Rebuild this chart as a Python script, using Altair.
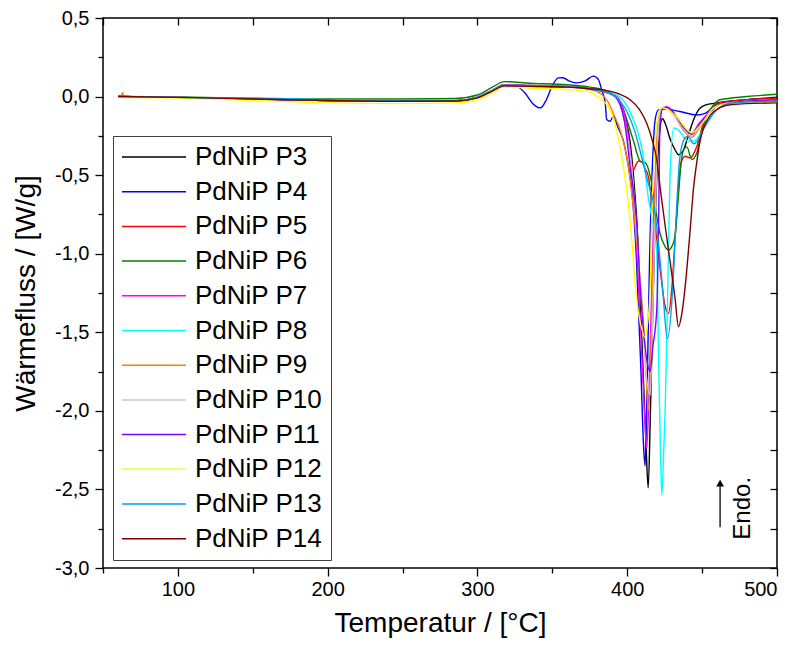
import altair as alt
import pandas as pd

FONT = "Liberation Sans"

NAMES = ["PdNiP P3", "PdNiP P4", "PdNiP P5", "PdNiP P6", "PdNiP P7", "PdNiP P8",
         "PdNiP P9", "PdNiP P10", "PdNiP P11", "PdNiP P12", "PdNiP P13", "PdNiP P14"]
COLORS = ["#000000", "#0000FF", "#FF0000", "#008000", "#FF00FF", "#00FFFF",
          "#FF8000", "#C8C8C8", "#8000FF", "#FFFF00", "#00A0F0", "#800000"]

BASE_T = [60, 100, 150, 200, 250, 285, 300, 310, 318, 335, 360, 375]

P3_T = BASE_T + [385, 392, 398, 403, 407, 410, 412.5, 414, 415.5, 418, 421, 423.5, 425.3, 429, 432, 434.2, 437.6, 441, 444.2, 448, 452, 460, 480, 500]
P3_V = [0.0, -0.005, -0.015, -0.025, -0.03, -0.028, -0.005, 0.04, 0.075, 0.07, 0.065, 0.05] + \
       [0.03, 0.0, -0.1, -0.38, -0.9, -1.6, -2.2, -2.49, -2.0, -1.0, -0.3, -0.14, -0.17, -0.28, -0.34, -0.37, -0.34, -0.24, -0.15, -0.08, -0.054, -0.04, -0.02, -0.005]

P4_T = [60, 100, 150, 200, 250, 285, 300, 310, 318, 326, 332, 337, 342, 346, 350, 354, 357, 361, 366, 372, 377.4, 380.8, 383, 385.3, 386.3, 388.6, 390.7, 394, 397.4, 400, 403, 406, 409, 410.8, 411.9, 413, 415, 417, 418.6, 420.8, 425, 435, 446.4, 452, 456, 460, 470, 500]
P4_V = [0.0, -0.005, -0.015, -0.025, -0.03, -0.028, -0.005, 0.04, 0.07, 0.065, 0.02, -0.045, -0.072, -0.02, 0.07, 0.119, 0.12, 0.1, 0.087, 0.1, 0.13, 0.108, 0.04, -0.04, -0.146, -0.157, -0.125, -0.2, -0.28, -0.4, -0.59, -1.0, -1.7, -2.2, -2.35, -2.0, -1.0, -0.4, -0.15, -0.085, -0.08, -0.095, -0.117, -0.107, -0.08, -0.05, -0.03, -0.02]

P5_T = BASE_T + [385, 392, 397, 401, 404.1, 406, 407.5, 410, 412, 414.1, 416.3, 419, 422, 425, 427.5, 429.7, 432, 434.2, 436, 438.7, 442, 444, 446.4, 450.8, 455.3, 462, 480, 500]
P5_V = [0.0, -0.005, -0.015, -0.025, -0.03, -0.028, -0.005, 0.04, 0.072, 0.068, 0.063, 0.05] + \
       [0.03, 0.0, -0.1, -0.3, -0.467, -0.43, -0.41, -0.42, -0.46, -0.51, -0.66, -0.85, -1.1, -1.32, -1.38, -1.23, -0.9, -0.59, -0.42, -0.38, -0.39, -0.37, -0.32, -0.17, -0.085, -0.04, -0.02, -0.01]

P6_T = BASE_T + [385, 392, 398, 404.1, 408.6, 412, 416.3, 419, 421.9, 425, 427.5, 430, 432, 434, 436, 437.6, 439.8, 443.1, 446.4, 449, 452, 457.6, 462, 480, 500]
P6_V = [0.0, -0.003, -0.01, -0.015, -0.015, -0.012, 0.01, 0.06, 0.095, 0.085, 0.075, 0.06] + \
       [0.04, 0.0, -0.1, -0.28, -0.41, -0.42, -0.55, -0.72, -0.87, -0.95, -0.976, -0.95, -0.88, -0.65, -0.42, -0.34, -0.32, -0.40, -0.36, -0.25, -0.15, -0.054, -0.02, 0.0, 0.015]

P7_T = BASE_T + [385, 393, 399, 403, 407, 410, 412, 413, 414.5, 417, 419.5, 421.5, 423, 426.4, 432, 438, 443.1, 448, 455.3, 462, 480, 500]
P7_V = [0.0, -0.005, -0.015, -0.025, -0.03, -0.028, -0.005, 0.04, 0.075, 0.07, 0.063, 0.048] + \
       [0.03, 0.0, -0.15, -0.45, -1.1, -1.7, -2.1, -2.24, -1.9, -1.0, -0.35, -0.12, -0.085, -0.064, -0.12, -0.2, -0.23, -0.17, -0.096, -0.05, -0.03, -0.02]

P8_T = BASE_T + [385, 395, 402, 408.6, 411, 414, 417, 419.7, 421, 422.3, 423.1, 424.2, 425.3, 426.4, 427.5, 428.6, 431, 434, 438.7, 442, 445.3, 448, 452, 459.7, 470, 500]
P8_V = [0.0, -0.005, -0.012, -0.02, -0.025, -0.025, -0.005, 0.04, 0.072, 0.068, 0.062, 0.05] + \
       [0.035, 0.0, -0.1, -0.28, -0.4, -0.64, -0.8, -1.0, -1.7, -2.3, -2.535, -2.3, -2.0, -1.55, -1.0, -0.5, -0.2, -0.21, -0.27, -0.285, -0.28, -0.25, -0.19, -0.085, -0.04, -0.02]

P9_T = [60, 62, 63, 64, 100, 150, 200, 250, 285, 300, 310, 318, 335, 360, 375, 382, 387, 390.7, 395.2, 400, 404, 408, 410.8, 412.5, 414.1, 415.3, 416.3, 418, 420, 422, 425, 432, 438, 443, 448, 455, 462, 480, 500]
P9_V = [0.0, 0.0, 0.025, 0.0, -0.005, -0.015, -0.025, -0.03, -0.028, -0.005, 0.04, 0.072, 0.068, 0.062, 0.045, 0.02, -0.03, -0.107, -0.21, -0.4, -0.7, -1.1, -1.44, -1.75, -1.99, -1.8, -1.44, -0.8, -0.25, -0.08, -0.07, -0.13, -0.22, -0.26, -0.2, -0.1, -0.05, -0.03, -0.02]

P10_T = BASE_T + [385, 392, 398, 403, 407, 410, 413, 415.3, 416.5, 418, 420, 422, 425, 432, 438, 443, 448, 455, 462, 480, 500]
P10_V = [0.0, -0.005, -0.015, -0.025, -0.03, -0.028, -0.005, 0.04, 0.072, 0.068, 0.062, 0.048] + \
        [0.03, 0.0, -0.15, -0.45, -0.95, -1.4, -1.8, -1.9, -1.6, -1.0, -0.35, -0.1, -0.07, -0.13, -0.21, -0.25, -0.19, -0.1, -0.05, -0.03, -0.02]

P11_T = BASE_T + [385, 392, 398, 402, 406.3, 408.6, 411, 413.5, 415.3, 417, 419.7, 420.8, 421.9, 424, 427, 433, 438, 443, 448, 455, 462, 480, 500]
P11_V = [0.0, -0.005, -0.015, -0.025, -0.03, -0.028, -0.005, 0.04, 0.072, 0.068, 0.062, 0.048] + \
        [0.03, 0.0, -0.15, -0.45, -0.8, -1.2, -1.5, -1.7, -1.75, -1.6, -1.36, -0.91, -0.17, -0.07, -0.07, -0.13, -0.2, -0.24, -0.18, -0.1, -0.05, -0.03, -0.02]

P12_T = BASE_T + [380, 388.6, 392, 396.3, 399.6, 402, 406.3, 409, 411.9, 413.5, 415.3, 416.3, 418, 419.7, 423, 433, 443, 450, 458, 470, 500]
P12_V = [-0.005, -0.01, -0.025, -0.04, -0.045, -0.04, -0.02, 0.025, 0.06, 0.055, 0.045, 0.03] + \
        [0.0, -0.085, -0.18, -0.38, -0.59, -0.8, -1.29, -1.45, -1.53, -1.45, -1.23, -0.8, -0.4, -0.17, -0.07, -0.13, -0.23, -0.17, -0.07, -0.04, -0.035]

P13_T = BASE_T + [385, 392, 400, 405, 410, 414, 418, 421, 423.7, 426.8, 430.3, 432.5, 435, 437.6, 439.8, 442, 444.2, 447, 450, 453, 459.7, 470, 500]
P13_V = [0.0, -0.005, -0.012, -0.02, -0.025, -0.025, -0.005, 0.04, 0.07, 0.066, 0.06, 0.048] + \
        [0.03, 0.0, -0.1, -0.22, -0.4, -0.55, -0.7, -0.95, -1.23, -1.54, -1.23, -0.8, -0.4, -0.28, -0.255, -0.27, -0.30, -0.28, -0.22, -0.17, -0.085, -0.04, -0.03]

P14_T = BASE_T + [385, 395, 401.9, 408, 413, 416.5, 419.7, 422.5, 427, 432, 434.2, 436.5, 439.8, 442, 444.2, 446.4, 448.7, 451, 455.3, 462, 470, 500]
P14_V = [0.0, -0.005, -0.015, -0.025, -0.03, -0.028, -0.008, 0.035, 0.068, 0.065, 0.06, 0.05] + \
        [0.04, 0.015, -0.02, -0.08, -0.17, -0.27, -0.4, -0.62, -0.94, -1.29, -1.465, -1.38, -1.1, -0.85, -0.59, -0.42, -0.28, -0.2, -0.12, -0.07, -0.05, -0.04]

SERIES_T = [P3_T, P4_T, P5_T, P6_T, P7_T, P8_T, P9_T, P10_T, P11_T, P12_T, P13_T, P14_T]
SERIES_V = [P3_V, P4_V, P5_V, P6_V, P7_V, P8_V, P9_V, P10_V, P11_V, P12_V, P13_V, P14_V]

X_MAJOR = [100, 200, 300, 400, 500]
X_MINOR = [50, 150, 250, 350, 450]
X_ALL = [50, 100, 150, 200, 250, 300, 350, 400, 450, 500]
Y_MAJOR = [-3.0, -2.5, -2.0, -1.5, -1.0, -0.5, 0.0, 0.5]
Y_MINOR = [-2.75, -2.25, -1.75, -1.25, -0.75, -0.25, 0.25]
Y_ALL = [-3.0, -2.75, -2.5, -2.25, -2.0, -1.75, -1.5, -1.25, -1.0, -0.75, -0.5, -0.25, 0.0, 0.25, 0.5]

# Endo arrow annotation (data coordinates)
ARROW_T = [462]
ARROW_Y0 = [-2.74]
ARROW_Y1 = [-2.48]
ARROW_HEAD = [-2.46]
ENDO_T = [477]
ENDO_Y = [-2.62]

rows = []
for name, ts, vs in zip(NAMES, SERIES_T, SERIES_V):
    for t, v in zip(ts, vs):
        rows.append({"series": name, "T": t, "V": v})
df = pd.DataFrame(rows)

arrow_df = pd.DataFrame({"T": ARROW_T, "y0": ARROW_Y0, "y1": ARROW_Y1, "head": ARROW_HEAD})
text_df = pd.DataFrame({"T": ENDO_T, "y": ENDO_Y, "label": ["Endo."]})

xs = alt.Scale(domain=[50, 500], nice=False, zero=False)
ys = alt.Scale(domain=[-3.0, 0.5], nice=False, zero=False)

common = dict(domain=False, grid=False, tickColor="black", tickWidth=1.3,
              labelFont=FONT, titleFont=FONT, labelColor="black", titleColor="black")

ylabel = "(datum.value < 0 ? '-' : '') + replace(format(abs(datum.value), '.1f'), '.', ',')"

lines = alt.Chart(df).mark_line(strokeWidth=1.4, interpolate="monotone", clip=True).encode(
    x=alt.X("T:Q", scale=xs, axis=alt.Axis(orient="bottom", values=X_MAJOR, tickSize=8,
                                           labelFontSize=20, labelPadding=3, format="d",
                                           title="Temperatur / [°C]", titleFontSize=28,
                                           titleFontWeight="normal", titlePadding=10, **common)),
    y=alt.Y("V:Q", scale=ys, axis=alt.Axis(orient="left", values=Y_MAJOR, tickSize=8,
                                           labelFontSize=20, labelPadding=6, labelExpr=ylabel,
                                           title="Wärmefluss / [W/g]", titleFontSize=28,
                                           titleFontWeight="normal", titlePadding=14, **common)),
    color=alt.Color("series:N", scale=alt.Scale(domain=NAMES, range=COLORS),
                    legend=alt.Legend(title=None, orient="none", legendX=10, legendY=118,
                                      symbolType="stroke", symbolSize=4096, symbolStrokeWidth=1.5,
                                      clipHeight=26, rowPadding=8.7, padding=8,
                                      labelFont=FONT, labelFontSize=26, labelColor="black",
                                      labelOffset=8, labelLimit=0,
                                      strokeColor="#404040", fillColor="white")),
    order=alt.Order("T:Q"),
)

arrow = alt.Chart(arrow_df).mark_rule(color="black", strokeWidth=1.3).encode(
    x=alt.X("T:Q", scale=xs, axis=alt.Axis(orient="bottom", values=X_MINOR, tickSize=5,
                                           labels=False, title=None, **common)),
    y=alt.Y("y0:Q", scale=ys, axis=alt.Axis(orient="left", values=Y_MINOR, tickSize=5,
                                            labels=False, title=None, **common)),
    y2="y1:Q",
)

head = alt.Chart(arrow_df).mark_point(shape="triangle-up", filled=True, color="black",
                                      size=60, opacity=1).encode(
    x=alt.X("T:Q", scale=xs, axis=alt.Axis(orient="top", values=X_ALL, tickSize=7, offset=-7,
                                           labels=False, title=None, **common)),
    y=alt.Y("head:Q", scale=ys, axis=alt.Axis(orient="right", values=Y_ALL, tickSize=7, offset=-7,
                                              labels=False, title=None, **common)),
)

endo = alt.Chart(text_df).mark_text(angle=270, font=FONT, fontSize=24, color="black",
                                    align="center", baseline="middle").encode(
    x=alt.X("T:Q", scale=xs, axis=None),
    y=alt.Y("y:Q", scale=ys, axis=None),
    text="label:N",
)

chart = alt.layer(lines, arrow, head, endo).resolve_axis(
    x="independent", y="independent"
).properties(
    width=674, height=550,
    autosize=alt.AutoSizeParams(type="none"),
    padding={"left": 103, "top": 18, "right": 21, "bottom": 83},
    background="white",
).configure_view(stroke="black", strokeWidth=1.5)

chart.save("out.html", embed_options={"renderer": "svg", "actions": False})
